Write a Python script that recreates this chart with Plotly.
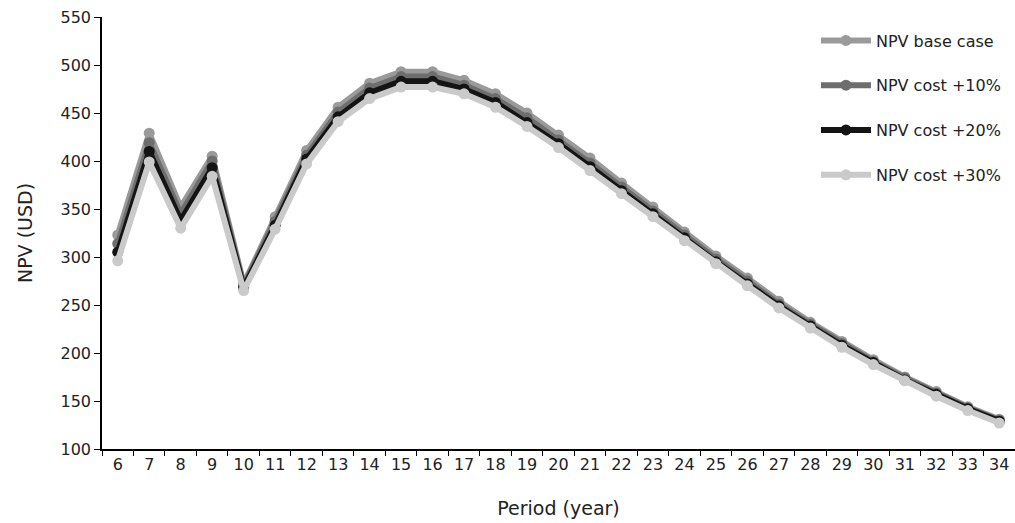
import plotly.graph_objects as go

periods = list(range(6, 35))
npv_base = [323, 429, 352, 405, 272, 342, 411, 456, 481, 493, 493, 484, 470, 450, 427, 403,
            377, 352, 326, 301, 278, 254, 232, 212, 193, 175, 160, 144, 131]
npv_cost10 = [314, 419, 345, 400, 270, 337, 406, 451, 476, 488, 488, 479, 465, 445, 422, 398,
              373, 348, 323, 298, 275, 251, 230, 210, 191, 174, 158, 143, 130]
npv_cost20 = [305, 410, 338, 393, 268, 333, 402, 446, 471, 483, 483, 475, 461, 440, 418, 394,
              369, 345, 320, 295, 272, 249, 228, 208, 190, 172, 157, 142, 129]
npv_cost30 = [296, 399, 330, 384, 265, 329, 397, 441, 465, 477, 477, 470, 456, 436, 414, 390,
              366, 342, 317, 293, 270, 247, 226, 206, 188, 171, 155, 140, 127]

series_names = ["NPV base case", "NPV cost +10%", "NPV cost +20%", "NPV cost +30%"]
series_values = [npv_base, npv_cost10, npv_cost20, npv_cost30]
colors = ["#9a9a9a", "#6e6e6e", "#141414", "#cacaca"]

font_family = "DejaVu Sans, sans-serif"

fig = go.Figure()
for i, (name, vals, col) in enumerate(zip(series_names, series_values, colors)):
    fig.add_trace(go.Scatter(
        x=[str(p) for p in periods], y=vals, name=name, mode="lines+markers",
        line=dict(color=col, width=6), marker=dict(color=col, size=11),
        legendgroup="g%d" % i,
    ))

fig.update_layout(
    width=1015, height=523,
    margin=dict(l=102, r=0, t=17, b=74),
    plot_bgcolor="white", paper_bgcolor="white",
    font=dict(family=font_family, size=16, color="#222222"),
    showlegend=True,
    legend=dict(x=0.782, y=0.985, xanchor="left", yanchor="top",
                bgcolor="rgba(0,0,0,0)", itemwidth=50, tracegroupgap=21,
                font=dict(size=16)),
    xaxis=dict(
        type="category", tickson="boundaries", ticks="outside", ticklen=5,
        tickcolor="black", showline=True, linecolor="black", linewidth=1.5,
        showgrid=False, zeroline=False,
        title=dict(text="Period (year)", standoff=29),
        range=[-0.5, 28.5],
    ),
    yaxis=dict(
        range=[100, 550], dtick=50, tick0=100, ticks="outside", ticklen=6,
        tickcolor="black", showline=True, linecolor="black", linewidth=1.5,
        showgrid=False, zeroline=False,
        title=dict(text="NPV (USD)", standoff=23),
    ),
)

fig.write_html("out.html", config={"displayModeBar": False},
               post_script="document.body.style.margin='0px';")
